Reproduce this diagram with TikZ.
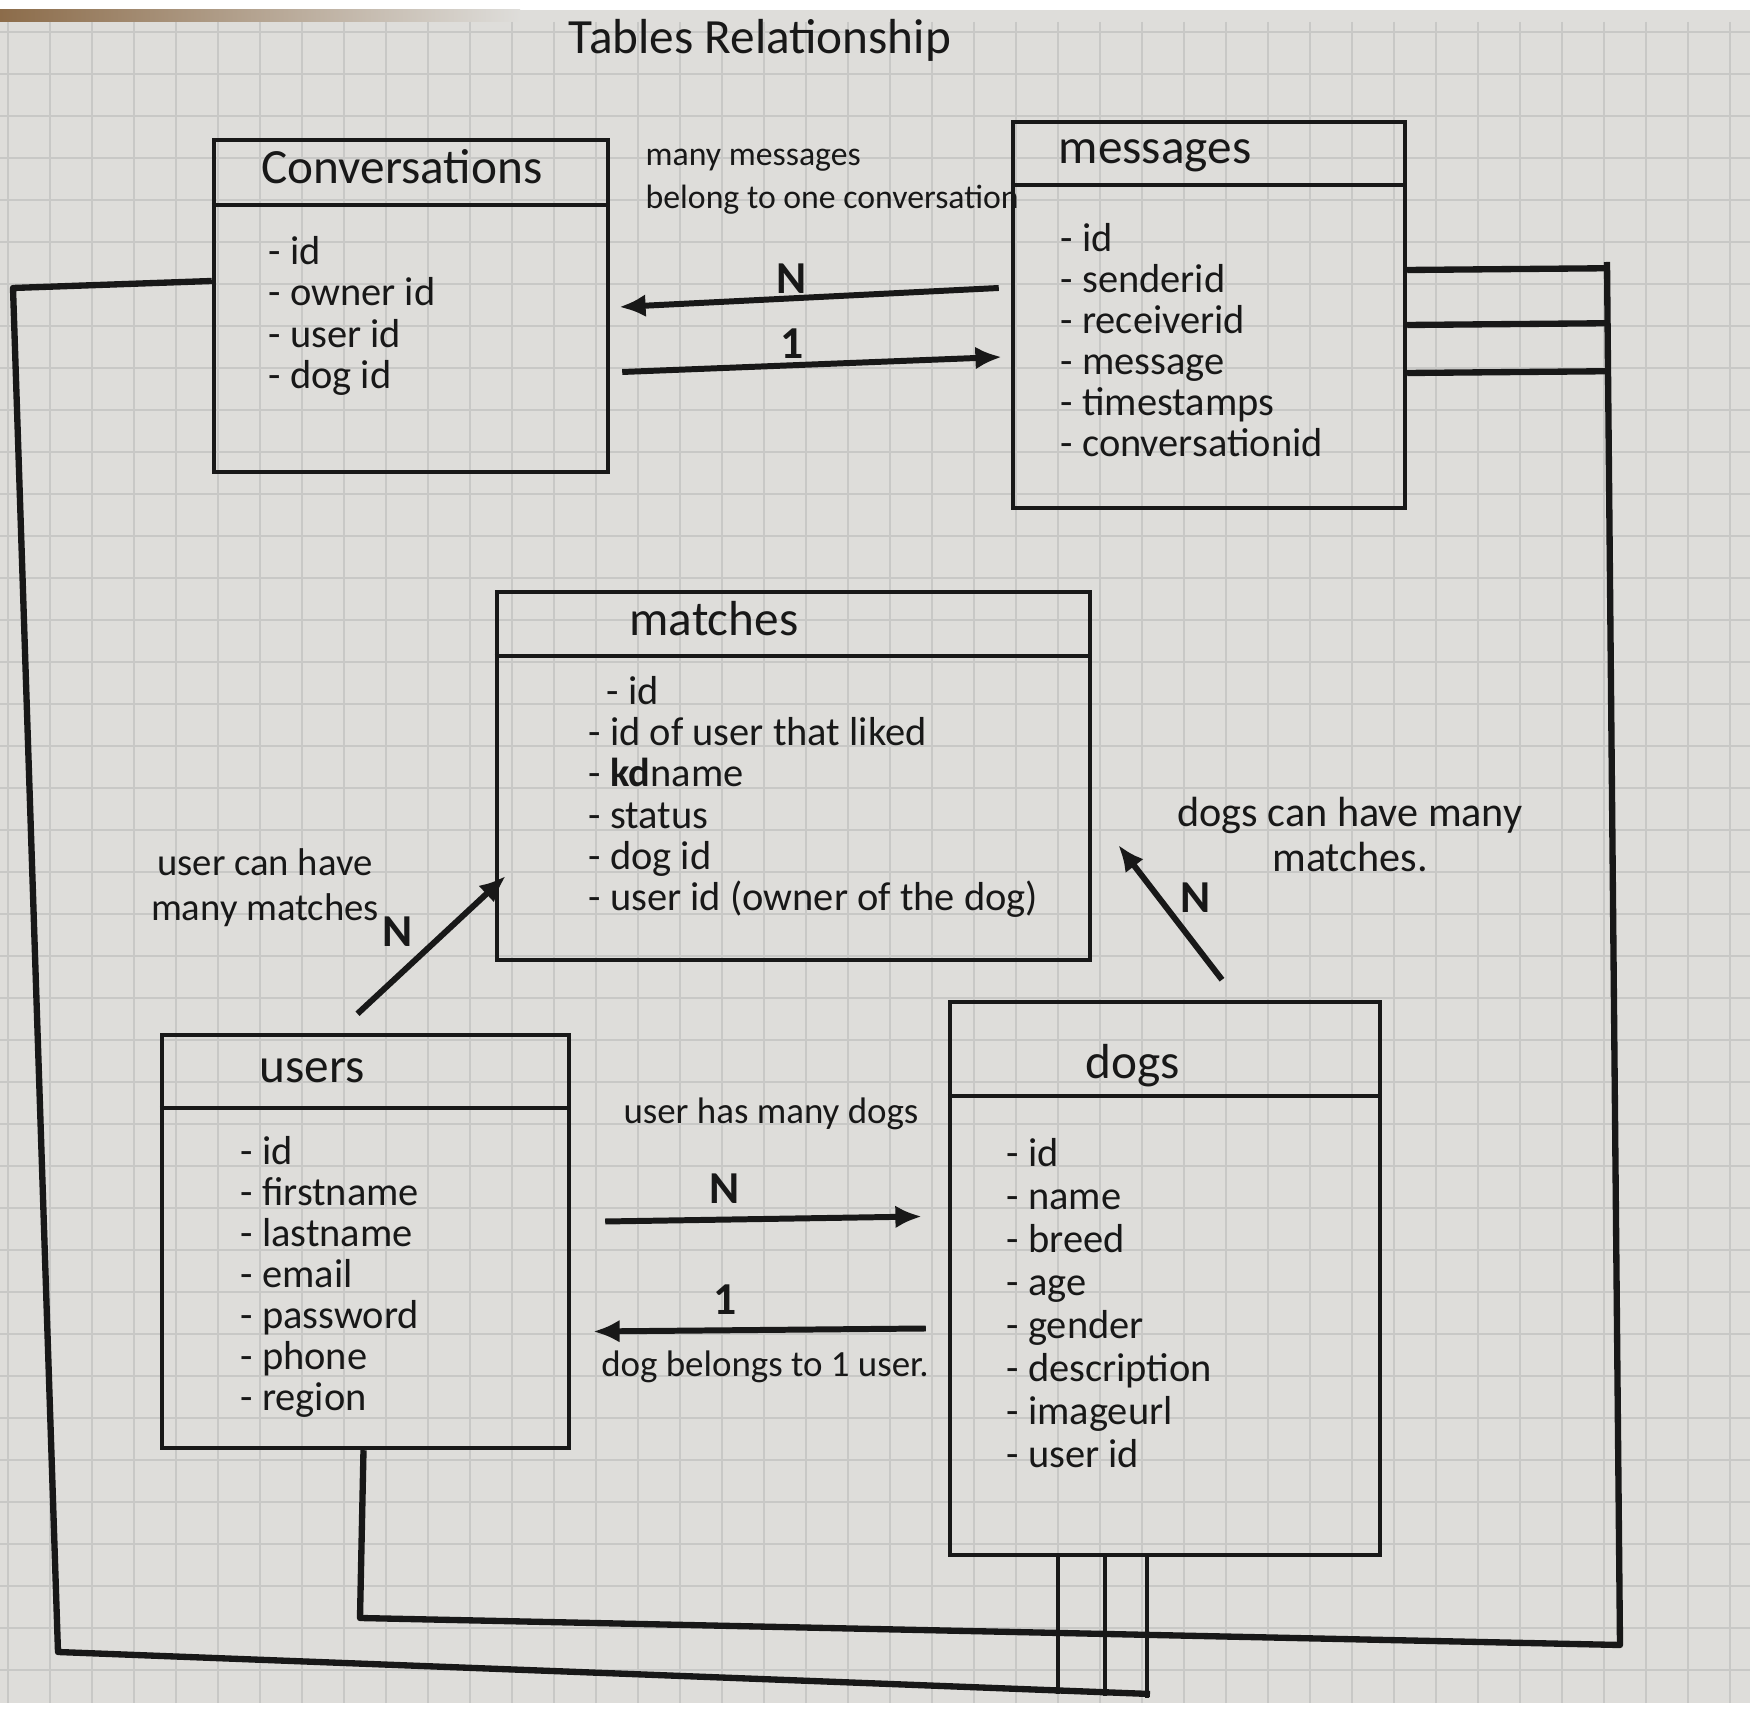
\documentclass[tikz,border=0pt]{standalone}
\usepackage{fontspec}
\setmainfont{Carlito}
\usetikzlibrary{arrows.meta,calc}
\definecolor{paper}{RGB}{222,221,218}
\definecolor{gridc}{RGB}{200,200,198}
\definecolor{ink}{RGB}{24,24,24}
\definecolor{tape}{RGB}{140,108,74}
\begin{document}
\begin{tikzpicture}[x=0.01cm,y=-0.01cm,
  tbl/.style={draw=ink,line width=1.2pt,inner sep=0pt},
  rule/.style={draw=ink,line width=1.2pt},
  head/.style={font=\fontsize{14}{16}\selectfont,text=ink,inner sep=0pt},
  fields/.style={font=\fontsize{11.5}{11.7}\selectfont,text=ink,align=left,inner sep=0pt,anchor=west},
  note/.style={font=\fontsize{10.5}{12.8}\selectfont,text=ink,inner sep=0pt},
  card/.style={font=\bfseries\fontsize{13}{13}\selectfont,text=ink,inner sep=0pt},
  rel/.style={draw=ink,line width=1.7pt,-{Latex[length=7.5pt,width=6.5pt]}},
  fk/.style={draw=ink,line width=1.8pt,line join=round},
  fkthin/.style={draw=ink,line width=1.3pt},
]
% sheet of squared paper
\useasboundingbox (0,0) rectangle (1750,1725);
\fill[white] (0,0) rectangle (1750,1725);
\fill[paper] (0,10) rectangle (1750,1703);
\shade[left color=tape,right color=paper] (0,10) rectangle (520,22);
\foreach \gx in {8,50,...,1750} \draw[gridc,line width=0.6pt] (\gx,22) -- (\gx,1703);
\foreach \gy in {32,74,...,1700} \draw[gridc,line width=0.6pt] (0,\gy) -- (1750,\gy);

% heading
\node[font=\fontsize{14}{15}\selectfont,text=ink] (ttl) at (760,40) {Tables Relationship};

% tables
\node[tbl,minimum width=3.94cm,minimum height=3.32cm] (conv) at (411,306) {};
\node[tbl,minimum width=3.92cm,minimum height=3.86cm] (msg) at (1209,315) {};
\node[tbl,minimum width=5.93cm,minimum height=3.68cm] (match) at (793.5,776) {};
\node[tbl,minimum width=4.07cm,minimum height=4.13cm] (users) at (365.5,1241.5) {};
\node[tbl,minimum width=4.30cm,minimum height=5.53cm] (dogs) at (1165,1278.5) {};

\draw[rule] ($(conv.north west)+(0,67)$) -- ($(conv.north east)+(0,67)$);
\draw[rule] ($(msg.north west)+(0,65)$) -- ($(msg.north east)+(0,65)$);
\draw[rule] ($(match.north west)+(0,66)$) -- ($(match.north east)+(0,66)$);
\draw[rule] ($(users.north west)+(0,75)$) -- ($(users.north east)+(0,75)$);
\draw[rule] ($(dogs.north west)+(0,96)$) -- ($(dogs.north east)+(0,96)$);

\node[head] (convT) at (402,167) {Conversations};
\node[head] (msgT) at (1155,156) {messages};
\node[head] (matchT) at (714,619) {matches};
\node[head] (usersT) at (312,1071) {users};
\node[head] (dogsT) at (1133,1066) {dogs};

\node[fields] (convF) at (268,316) {- id\\- owner id\\- user id\\- dog id};
\node[fields] (msgF) at (1060,340) {- id\\- senderid\\- receiverid\\- message\\- timestamps\\- conversationid};
\node[fields] (matchF) at (588,797) {\ \ - id\\- id of user that liked\\- \textbf{kd}name\\- status\\- dog id\\- user id (owner of the dog)};
\node[fields] (usersF) at (240,1277) {- id\\- firstname\\- lastname\\- email\\- password\\- phone\\- region};
\node[fields,font=\fontsize{11.5}{12.2}\selectfont] (dogsF) at (1006,1303) {- id\\- name\\- breed\\- age\\- gender\\- description\\- imageurl\\- user id};

% relationship arrows and their labels
\node[note,align=left,anchor=west,font=\fontsize{9.6}{12.2}\selectfont] (nMsg) at (645,182) {many messages\\belong to one conversation};
\draw[rel] ($(msg.west)+(-12,-27)$) -- ($(conv.east)+(9,1)$);
\draw[rel] ($(conv.east)+(12,66)$) -- ($(msg.west)+(-9,42)$);
\node[card] (cN1) at (792,279) {N};
\node[card] (c11) at (792,344) {1};

\node[note] (nUD) at (771,1114) {user has many dogs};
\node[note] (nDU) at (765,1367) {dog belongs to 1 user.};
\draw[rel] ($(users.east)+(34,-20)$) -- ($(dogs.west)+(-26,-62)$);
\draw[rel] ($(dogs.west)+(-22,50)$) -- ($(users.east)+(22,90)$);
\node[card] (cN2) at (725,1189) {N};
\node[card] (c12) at (725,1300) {1};

\node[note,align=center,font=\fontsize{11}{12.8}\selectfont] (nUM) at (265,888) {user can have\\many matches};
\draw[rel] ($(users.north)+(-8,-19)$) -- ($(match.west)+(11,100)$);
\node[card] (cN3) at (398,932) {N};

\node[note,align=center,font=\fontsize{12}{12.8}\selectfont] (nDM) at (1350,835) {dogs can have many\\matches.};
\draw[rel] ($(dogs.north)+(57,-20)$) -- ($(match.east)+(26,69)$);
\node[card] (cN4) at (1196,898) {N};

% key lines round the sheet
\coordinate (la) at (13,288);
\coordinate (lb) at (58,1652);
\coordinate (lc) at (1150,1694);
\draw[fk] ($(conv.west)+(0,-25)$) -- (la) -- (lb) -- (lc);
\draw[fkthin] ($(dogs.south)+(-107,0)$) -- ++(0,137);
\draw[fkthin] ($(dogs.south)+(-60,0)$) -- ++(0,139);
\draw[fkthin] ($(dogs.south)+(-18,0)$) -- ++(0,141);

\coordinate (ua) at (360,1618);
\coordinate (ub) at (1620,1645);
\coordinate (uc) at (1607,262);
\draw[fk] ($(users.south)+(-2,0)$) -- (ua) -- (ub) -- (uc);
\foreach \dy in {-45,10,58}
  \draw[fk] ($(msg.east)+(0,\dy)$) -- ($(ub)!($(msg.east)+(0,\dy)$)!(uc)$);
\end{tikzpicture}
\end{document}
